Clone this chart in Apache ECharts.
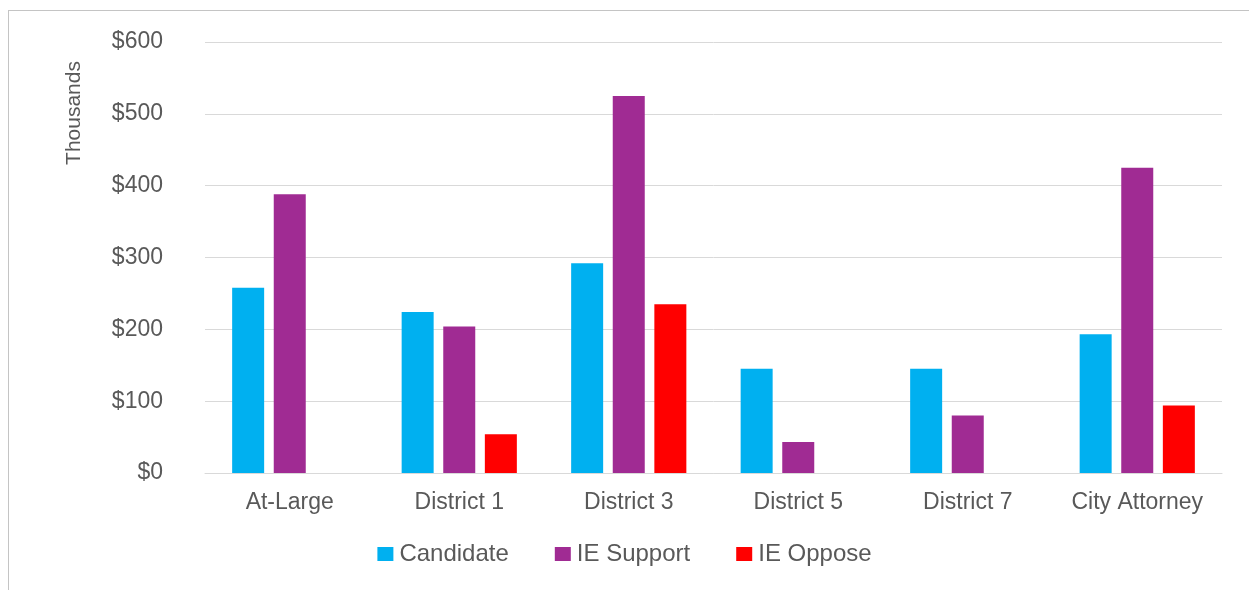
<!DOCTYPE html>
<html>
<head>
<meta charset="utf-8">
<title>Spending by race</title>
<script src="https://cdn.jsdelivr.net/npm/echarts@6/dist/echarts.min.js"></script>
<style>
  html, body { margin: 0; padding: 0; background: #fff; overflow: hidden; }
  #frame {
    position: absolute; left: 8px; top: 10px;
    width: 1400px; height: 800px;
    border: 1px solid #c4c4c4;
  }
  #chart { position: absolute; left: 0; top: 0; width: 1249px; height: 590px; }
</style>
</head>
<body>
<div id="frame"></div>
<div id="chart"></div>
<script>
// values in thousands of dollars
const categories = ['At-Large', 'District 1', 'District 3', 'District 5', 'District 7', 'City Attorney']
const candidate = [258, 224, 292, 145, 145, 193]
const ieSupport = [388, 204, 525, 43, 80, 425]
const ieOppose = [null, 54, 235, null, null, 94]

const textColor = '#595959'
const font = 'Liberation Sans, Arial, sans-serif'

const chart = echarts.init(document.getElementById('chart'))

function barSeries(name, data, color) {
  return {
    name: name,
    type: 'bar',
    data: data,
    barWidth: 32,
    barGap: '30%',
    itemStyle: { color: color }
  }
}

chart.setOption({
  animation: false,
  backgroundColor: 'transparent',
  textStyle: { fontFamily: font },
  grid: {
    left: 205,
    right: 27,
    top: 42,
    bottom: 117
  },
  legend: {
    bottom: 19,
    left: 'center',
    itemWidth: 16,
    itemHeight: 14,
    itemGap: 46,
    icon: 'rect',
    textStyle: { color: textColor, fontSize: 24, fontFamily: font, padding: [0, 0, 0, 1] },
    data: ['Candidate', 'IE Support', 'IE Oppose']
  },
  graphic: [{
    type: 'text',
    x: 74,
    y: 113,
    rotation: Math.PI / 2,
    style: {
      text: 'Thousands',
      fill: textColor,
      font: '21px ' + font,
      align: 'center',
      verticalAlign: 'middle'
    }
  }],
  xAxis: {
    type: 'category',
    data: categories,
    axisTick: { show: false },
    axisLine: { lineStyle: { color: '#d9d9d9', width: 1 } },
    axisLabel: {
      color: textColor,
      fontSize: 23,
      interval: 0,
      margin: 18
    }
  },
  yAxis: {
    type: 'value',
    min: 0,
    max: 600,
    interval: 100,
    axisLine: { show: false },
    axisTick: { show: false },
    splitLine: { lineStyle: { color: '#d9d9d9', width: 1 } },
    axisLabel: {
      color: textColor,
      fontSize: 23,
      margin: 42,
      formatter: v => '$' + v
    }
  },
  series: [
    barSeries('Candidate', candidate, '#00b0f0'),
    barSeries('IE Support', ieSupport, '#a02b93'),
    barSeries('IE Oppose', ieOppose, '#ff0000')
  ]
})
</script>
</body>
</html>
